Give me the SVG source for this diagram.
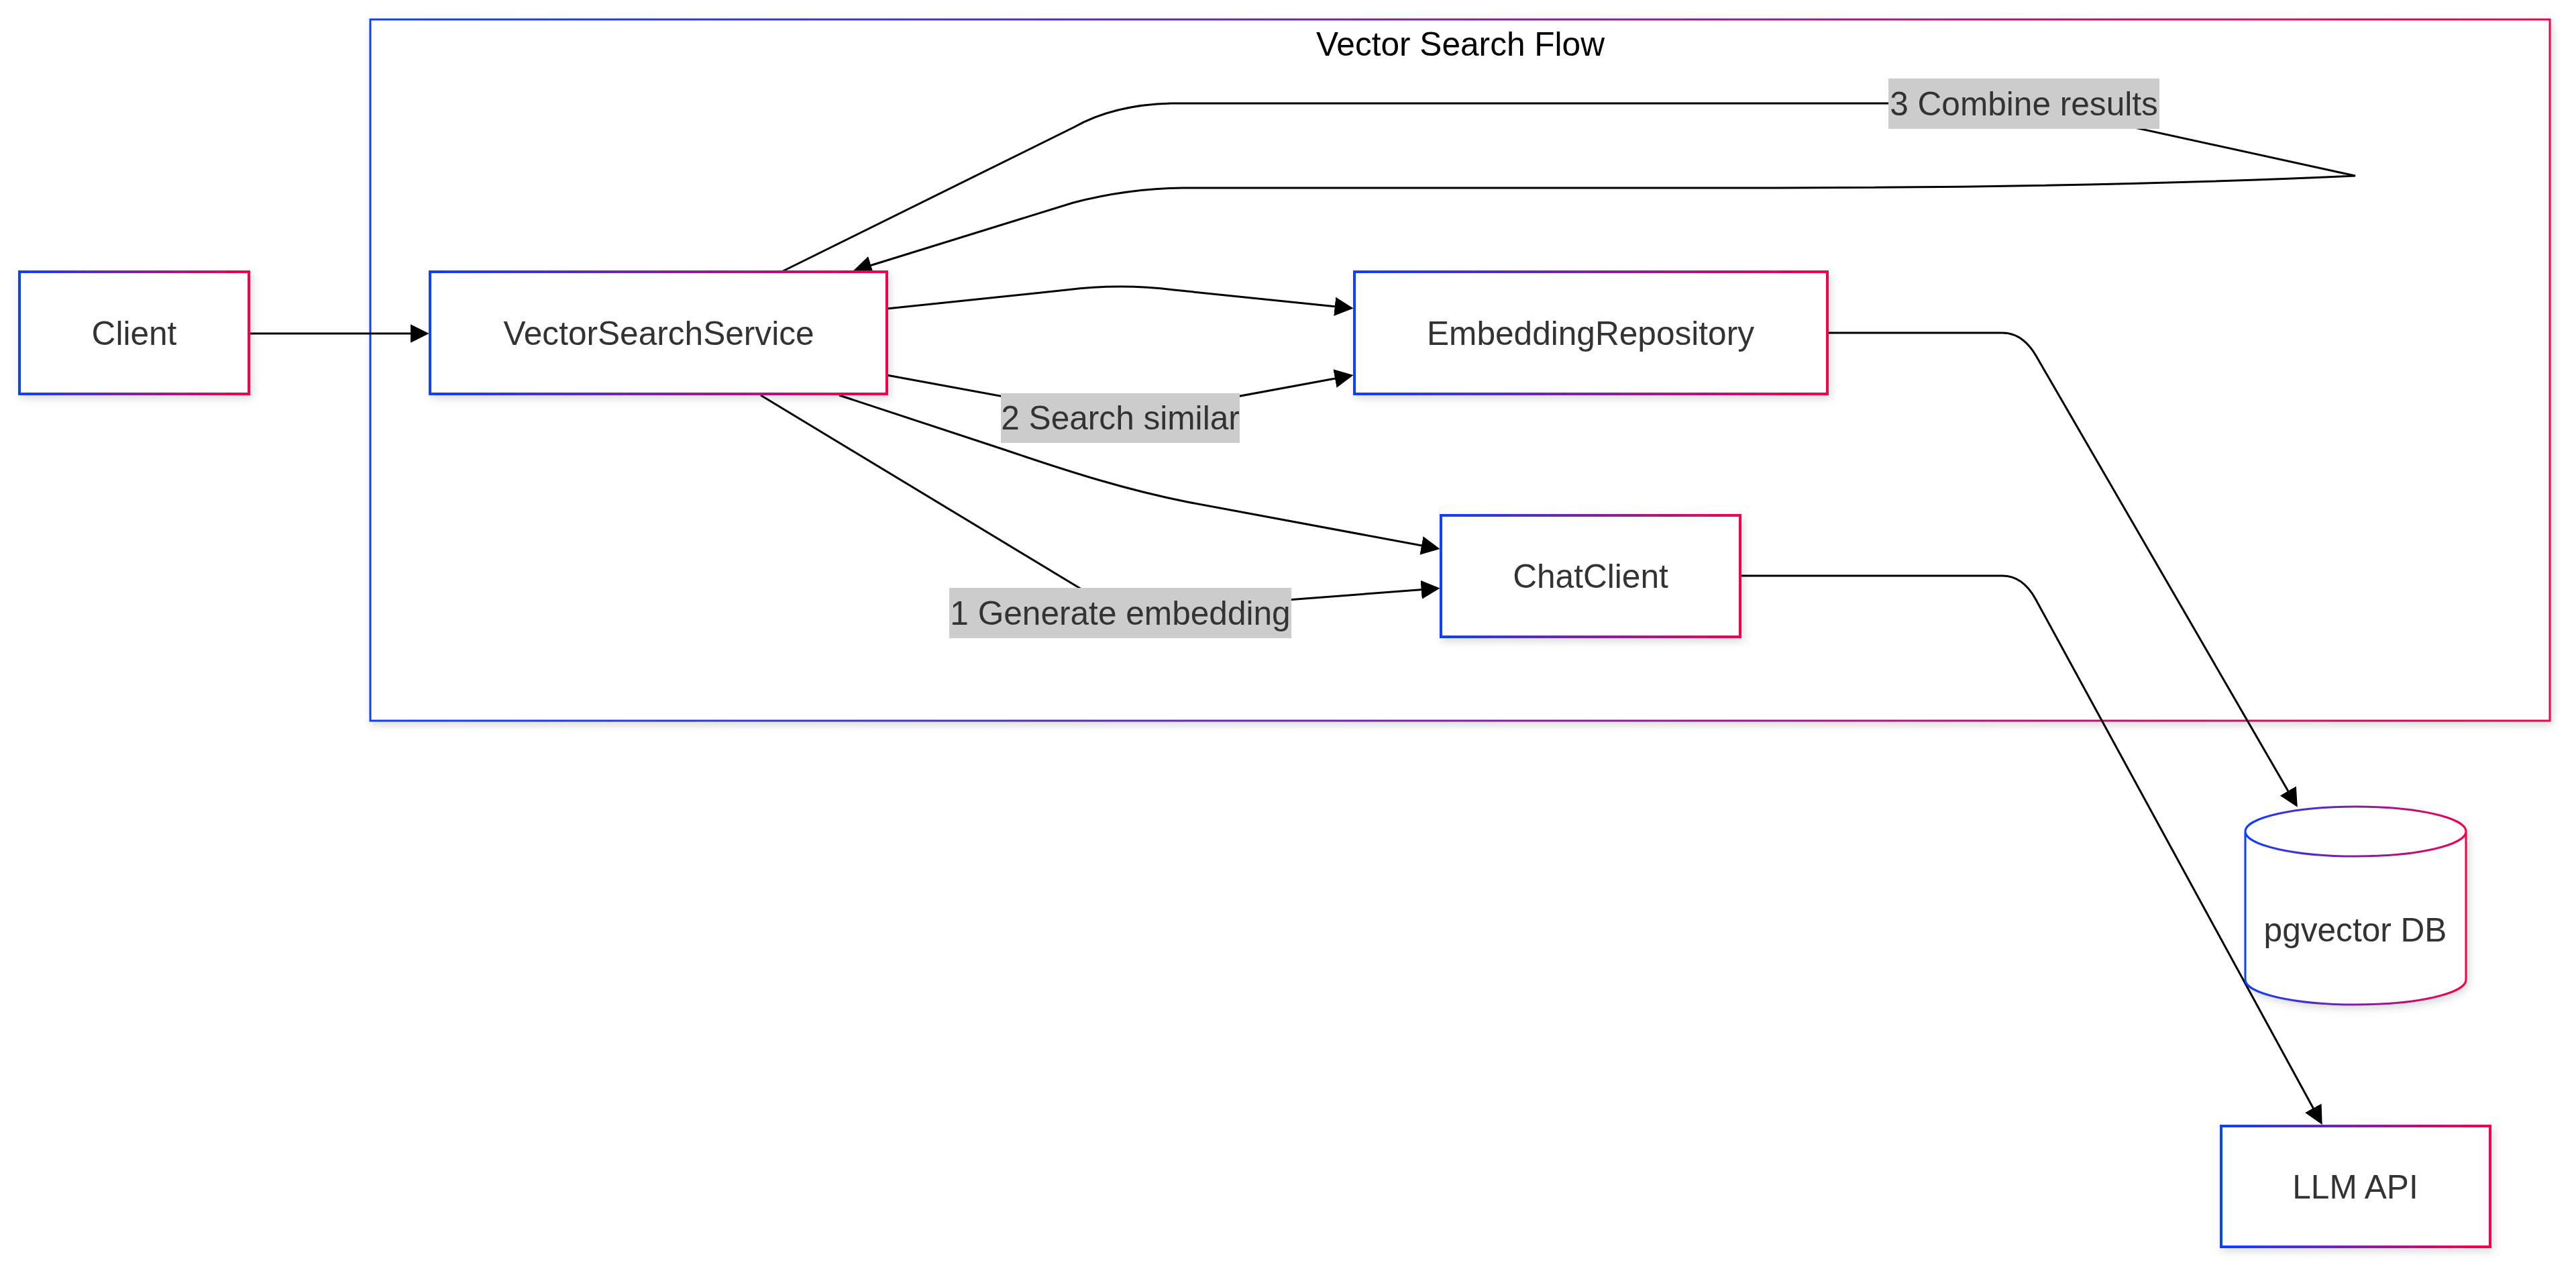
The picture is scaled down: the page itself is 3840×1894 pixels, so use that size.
<svg xmlns="http://www.w3.org/2000/svg" width="3840" height="1894" viewBox="0 0 3840 1894">
<style>
.node-shape{fill:#ffffff;stroke:url(#grad);stroke-width:4;filter:url(#shadow);}
.cyl{fill:#ffffff;stroke:url(#grad);stroke-width:3;filter:url(#shadow);}
.cluster{fill:#ffffff;stroke:url(#grad);stroke-width:3;filter:url(#shadow);}
.label{font-family:"Liberation Sans",Arial,Helvetica,sans-serif;font-size:49.6px;fill:#333333;text-anchor:middle;}
.title{font-family:"Liberation Sans",Arial,Helvetica,sans-serif;font-size:49.6px;fill:#000000;text-anchor:middle;}
.edge{fill:none;stroke:#000000;stroke-width:3;marker-end:url(#arrow);}
.lbl-bg{fill:#cccccc;}
</style>
<defs>
<linearGradient id="grad" x1="0" y1="0" x2="1" y2="0">
<stop offset="0" stop-color="#0a40ff"/>
<stop offset="1" stop-color="#f5004b"/>
</linearGradient>
<filter id="shadow" x="-10%" y="-10%" width="120%" height="130%">
<feDropShadow dx="3" dy="5" stdDeviation="6" flood-color="#000000" flood-opacity="0.14"/>
</filter>
<marker id="arrow" viewBox="0 0 10 10" refX="8" refY="5" markerUnits="userSpaceOnUse" markerWidth="28" markerHeight="29" orient="auto">
<path d="M0,0 L10,5 L0,10 z" fill="#000000"/>
</marker>
</defs>
<rect width="3840" height="1894" fill="#ffffff"/>

<g id="cluster-vector-search-flow">
<rect class="cluster" x="552" y="29" width="3249" height="1045"/>
<text class="title" x="2177" y="83">Vector Search Flow</text>
</g>

<g id="edges">
<path class="edge" d="M371,497 L634,497"/>
<path class="edge" d="M1322,460 L1590,432 Q1670,422 1750,432 L2012,459"/>
<path class="edge" d="M1322,559 L1670,623 L2012,560"/>
<path class="edge" d="M1251,589 L1500,671 C1600,705 1680,730 1770,748 L2141,817"/>
<path class="edge" d="M1134,589 L1670,913 L2141,877"/>
<path class="edge" d="M1167,404 L1600,190 Q1660,156 1746,154 L3017,154 L3511,262 C3250,274 2950,280 2600,280 L1764,280 Q1680,281 1600,302 L1277,402"/>
<path class="edge" d="M2724,496 L2985,496 Q3015,496 3035,530 L3422,1198"/>
<path class="edge" d="M2594,858 L2985,858 Q3015,858 3034,892 L3459,1671"/>
<g id="edge-labels">
<rect class="lbl-bg" x="1492" y="586" width="356" height="74"/>
<text class="label" x="1670" y="640">2 Search similar</text>
<rect class="lbl-bg" x="1415" y="876" width="510" height="75"/>
<text class="label" x="1670" y="931">1 Generate embedding</text>
<rect class="lbl-bg" x="2815" y="117" width="404" height="75"/>
<text class="label" x="3017" y="172">3 Combine results</text>
</g>
</g>

<g id="node-client">
<rect class="node-shape" x="29" y="405" width="342" height="182"/>
<text class="label" x="200" y="514">Client</text>
</g>

<g id="node-vectorsearchservice">
<rect class="node-shape" x="641" y="405" width="681" height="182"/>
<text class="label" x="982" y="514">VectorSearchService</text>
</g>

<g id="node-embeddingrepository">
<rect class="node-shape" x="2019" y="405" width="705" height="182"/>
<text class="label" x="2371" y="514">EmbeddingRepository</text>
</g>

<g id="node-chatclient">
<rect class="node-shape" x="2148" y="768" width="446" height="181"/>
<text class="label" x="2371" y="876">ChatClient</text>
</g>

<g id="node-pgvector-db">
<path class="cyl" d="M3347,1239 A164.5,37 0 0,0 3676,1239 A164.5,37 0 0,0 3347,1239 L3347,1460 A164.5,37 0 0,0 3676,1460 L3676,1239"/>
<text class="label" x="3511" y="1403">pgvector DB</text>
</g>

<g id="node-llm-api">
<rect class="node-shape" x="3311" y="1678" width="401" height="180"/>
<text class="label" x="3511" y="1786">LLM API</text>
</g>
</svg>
